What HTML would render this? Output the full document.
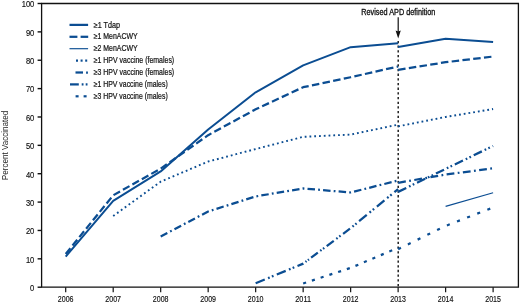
<!DOCTYPE html><html><head><meta charset="utf-8"><style>html,body{margin:0;padding:0;background:#fff}svg{display:block;will-change:transform;opacity:0.999}text{font-family:"Liberation Sans",sans-serif}</style></head><body>
<svg width="520" height="303" viewBox="0 0 520 303">
<rect width="520" height="303" fill="#fff"/>
<path d="M41.6 3.5H518.4V287.2H41.6Z" fill="none" stroke="#111" stroke-width="1.3"/>
<path d="M37.6 287.20H41.6" stroke="#111" stroke-width="1.4"/>
<text x="34.3" y="291.00" font-size="8.2" stroke="#111" stroke-width="0.15" text-anchor="end" fill="#111" textLength="4.20" lengthAdjust="spacingAndGlyphs">0</text>
<path d="M37.6 258.83H41.6" stroke="#111" stroke-width="1.4"/>
<text x="34.3" y="262.63" font-size="8.2" stroke="#111" stroke-width="0.15" text-anchor="end" fill="#111" textLength="8.40" lengthAdjust="spacingAndGlyphs">10</text>
<path d="M37.6 230.46H41.6" stroke="#111" stroke-width="1.4"/>
<text x="34.3" y="234.26" font-size="8.2" stroke="#111" stroke-width="0.15" text-anchor="end" fill="#111" textLength="8.40" lengthAdjust="spacingAndGlyphs">20</text>
<path d="M37.6 202.09H41.6" stroke="#111" stroke-width="1.4"/>
<text x="34.3" y="205.89" font-size="8.2" stroke="#111" stroke-width="0.15" text-anchor="end" fill="#111" textLength="8.40" lengthAdjust="spacingAndGlyphs">30</text>
<path d="M37.6 173.72H41.6" stroke="#111" stroke-width="1.4"/>
<text x="34.3" y="177.52" font-size="8.2" stroke="#111" stroke-width="0.15" text-anchor="end" fill="#111" textLength="8.40" lengthAdjust="spacingAndGlyphs">40</text>
<path d="M37.6 145.35H41.6" stroke="#111" stroke-width="1.4"/>
<text x="34.3" y="149.15" font-size="8.2" stroke="#111" stroke-width="0.15" text-anchor="end" fill="#111" textLength="8.40" lengthAdjust="spacingAndGlyphs">50</text>
<path d="M37.6 116.98H41.6" stroke="#111" stroke-width="1.4"/>
<text x="34.3" y="120.78" font-size="8.2" stroke="#111" stroke-width="0.15" text-anchor="end" fill="#111" textLength="8.40" lengthAdjust="spacingAndGlyphs">60</text>
<path d="M37.6 88.61H41.6" stroke="#111" stroke-width="1.4"/>
<text x="34.3" y="92.41" font-size="8.2" stroke="#111" stroke-width="0.15" text-anchor="end" fill="#111" textLength="8.40" lengthAdjust="spacingAndGlyphs">70</text>
<path d="M37.6 60.24H41.6" stroke="#111" stroke-width="1.4"/>
<text x="34.3" y="64.04" font-size="8.2" stroke="#111" stroke-width="0.15" text-anchor="end" fill="#111" textLength="8.40" lengthAdjust="spacingAndGlyphs">80</text>
<path d="M37.6 31.87H41.6" stroke="#111" stroke-width="1.4"/>
<text x="34.3" y="35.67" font-size="8.2" stroke="#111" stroke-width="0.15" text-anchor="end" fill="#111" textLength="8.40" lengthAdjust="spacingAndGlyphs">90</text>
<path d="M37.6 3.50H41.6" stroke="#111" stroke-width="1.4"/>
<text x="34.3" y="7.30" font-size="8.2" stroke="#111" stroke-width="0.15" text-anchor="end" fill="#111" textLength="12.60" lengthAdjust="spacingAndGlyphs">100</text>
<path d="M65.70 287.2V292.2" stroke="#111" stroke-width="1.2"/>
<text x="65.70" y="301.8" font-size="8.2" stroke="#111" stroke-width="0.15" text-anchor="middle" fill="#111" textLength="15.7" lengthAdjust="spacingAndGlyphs">2006</text>
<path d="M113.19 287.2V292.2" stroke="#111" stroke-width="1.2"/>
<text x="113.19" y="301.8" font-size="8.2" stroke="#111" stroke-width="0.15" text-anchor="middle" fill="#111" textLength="15.7" lengthAdjust="spacingAndGlyphs">2007</text>
<path d="M160.68 287.2V292.2" stroke="#111" stroke-width="1.2"/>
<text x="160.68" y="301.8" font-size="8.2" stroke="#111" stroke-width="0.15" text-anchor="middle" fill="#111" textLength="15.7" lengthAdjust="spacingAndGlyphs">2008</text>
<path d="M208.17 287.2V292.2" stroke="#111" stroke-width="1.2"/>
<text x="208.17" y="301.8" font-size="8.2" stroke="#111" stroke-width="0.15" text-anchor="middle" fill="#111" textLength="15.7" lengthAdjust="spacingAndGlyphs">2009</text>
<path d="M255.66 287.2V292.2" stroke="#111" stroke-width="1.2"/>
<text x="255.66" y="301.8" font-size="8.2" stroke="#111" stroke-width="0.15" text-anchor="middle" fill="#111" textLength="15.7" lengthAdjust="spacingAndGlyphs">2010</text>
<path d="M303.15 287.2V292.2" stroke="#111" stroke-width="1.2"/>
<text x="303.15" y="301.8" font-size="8.2" stroke="#111" stroke-width="0.15" text-anchor="middle" fill="#111" textLength="15.7" lengthAdjust="spacingAndGlyphs">2011</text>
<path d="M350.64 287.2V292.2" stroke="#111" stroke-width="1.2"/>
<text x="350.64" y="301.8" font-size="8.2" stroke="#111" stroke-width="0.15" text-anchor="middle" fill="#111" textLength="15.7" lengthAdjust="spacingAndGlyphs">2012</text>
<path d="M398.13 287.2V292.2" stroke="#111" stroke-width="1.2"/>
<text x="398.13" y="301.8" font-size="8.2" stroke="#111" stroke-width="0.15" text-anchor="middle" fill="#111" textLength="15.7" lengthAdjust="spacingAndGlyphs">2013</text>
<path d="M445.62 287.2V292.2" stroke="#111" stroke-width="1.2"/>
<text x="445.62" y="301.8" font-size="8.2" stroke="#111" stroke-width="0.15" text-anchor="middle" fill="#111" textLength="15.7" lengthAdjust="spacingAndGlyphs">2014</text>
<path d="M493.11 287.2V292.2" stroke="#111" stroke-width="1.2"/>
<text x="493.11" y="301.8" font-size="8.2" stroke="#111" stroke-width="0.15" text-anchor="middle" fill="#111" textLength="15.7" lengthAdjust="spacingAndGlyphs">2015</text>
<text transform="translate(7.5 145.4) rotate(-90)" font-size="8.4" text-anchor="middle" fill="#222" textLength="69.5" lengthAdjust="spacingAndGlyphs">Percent Vaccinated</text>
<text x="398.3" y="14.8" font-size="8.2" stroke="#111" stroke-width="0.3" text-anchor="middle" fill="#111" textLength="74" lengthAdjust="spacingAndGlyphs">Revised APD definition</text>
<path d="M398.2 17.3V32" stroke="#111" stroke-width="1.2"/>
<path d="M395.6 30.4L398.2 38.6L400.8 30.4L398.2 31.6Z" fill="#111"/>
<path d="M398.2 40.88V287.2" stroke="#111" stroke-width="1.4" stroke-dasharray="2.3 2.373" fill="none"/>
<polyline points="65.70,256.56 113.19,200.96 160.68,171.45 208.17,129.46 255.66,92.30 303.15,65.35 350.64,47.19 398.13,43.22" fill="none" stroke="#0b4d92" stroke-width="2.0" stroke-linejoin="round"/>
<polyline points="398.13,46.91 445.62,38.68 493.11,42.08" fill="none" stroke="#0b4d92" stroke-width="2.0" stroke-linejoin="round"/>
<polyline points="65.70,254.01 113.19,195.28 160.68,168.61 208.17,135.14 255.66,109.32 303.15,87.19 350.64,77.26 398.13,66.48" fill="none" stroke="#0b4d92" stroke-width="2.25" stroke-dasharray="7.5 3.34" stroke-linejoin="round"/>
<polyline points="398.13,69.89 445.62,62.23 493.11,56.55" fill="none" stroke="#0b4d92" stroke-width="2.25" stroke-dasharray="7.5 3.34" stroke-linejoin="round"/>
<polyline points="445.62,206.35 493.11,192.73" fill="none" stroke="#0b4d92" stroke-width="1.15" stroke-linejoin="round"/>
<polyline points="113.19,215.99 160.68,181.66 208.17,161.52 255.66,149.04 303.15,136.84 350.64,134.57 398.13,124.64" fill="none" stroke="#0b4d92" stroke-width="1.9" stroke-dasharray="1.8 2.97" stroke-linejoin="round"/>
<polyline points="398.13,126.34 445.62,116.98 493.11,109.04" fill="none" stroke="#0b4d92" stroke-width="1.9" stroke-dasharray="1.8 2.97" stroke-linejoin="round"/>
<polyline points="160.68,236.42 208.17,211.45 255.66,196.42 303.15,188.47 350.64,192.44 398.13,180.53" fill="none" stroke="#0b4d92" stroke-width="2.25" stroke-dasharray="7.5 3.15 1.8 3.15" stroke-linejoin="round"/>
<polyline points="398.13,182.80 445.62,174.57 493.11,168.33" fill="none" stroke="#0b4d92" stroke-width="2.25" stroke-dasharray="7.8 3.4 1.8 3.4" stroke-linejoin="round"/>
<polyline points="398.13,191.88 445.62,168.90 493.11,145.92" fill="none" stroke="#0b4d92" stroke-width="2.25" stroke-dasharray="9.0 3.1 1.7 2.4 1.7 3.1" stroke-linejoin="round"/>
<polyline points="303.15,283.51 350.64,267.91 398.13,247.77" fill="none" stroke="#0b4d92" stroke-width="2.25" stroke-dasharray="3.1 6.1" stroke-linejoin="round"/>
<polyline points="398.13,249.18 445.62,225.92 493.11,207.48" fill="none" stroke="#0b4d92" stroke-width="2.25" stroke-dasharray="3.1 7.75" stroke-linejoin="round"/>
<path d="M255.66 283.23 L264.75 279.48 M268.03 278.13 L269.72 277.43 M271.83 276.56 L273.52 275.86 M276.80 274.51 L285.70 270.85 M288.91 269.52 L290.57 268.84 M292.64 267.99 L294.29 267.30 M297.50 265.98 L303.15 263.65 L303.35 263.51 M305.46 261.93 L306.54 261.12 M307.90 260.10 L308.99 259.29 M311.10 257.72 L317.81 252.71 M320.23 250.90 L321.47 249.97 M323.03 248.80 L324.28 247.87 M326.70 246.07 L333.75 240.80 M336.29 238.90 L337.61 237.92 M339.25 236.70 L340.56 235.72 M343.10 233.82 L349.98 228.68 M352.46 226.69 L353.74 225.63 M355.34 224.32 L356.62 223.26 M359.10 221.22 L366.75 214.91 M369.51 212.63 L370.94 211.46 M372.72 209.99 L374.14 208.82 M376.90 206.54 L384.42 200.34 M387.14 198.10 L388.54 196.95 M390.29 195.51 L391.69 194.35 M394.40 192.11 L398.13 189.04" fill="none" stroke="#0b4d92" stroke-width="2.25"/>
<path d="M69.5 24.90H88.1" stroke="#0b4d92" stroke-width="2.25"/>
<path d="M69.5 36.80H77.4" stroke="#0b4d92" stroke-width="2.25"/>
<path d="M80.6 36.80H88.2" stroke="#0b4d92" stroke-width="2.25"/>
<path d="M69.5 48.70H88.1" stroke="#0b4d92" stroke-width="1.15"/>
<path d="M76.0 60.60H78.0" stroke="#0b4d92" stroke-width="2.2"/>
<path d="M80.6 60.60H82.6" stroke="#0b4d92" stroke-width="2.2"/>
<path d="M85.2 60.60H87.2" stroke="#0b4d92" stroke-width="2.2"/>
<path d="M75.5 72.50H83" stroke="#0b4d92" stroke-width="2.25"/>
<path d="M86.1 72.50H87.9" stroke="#0b4d92" stroke-width="2.25"/>
<path d="M70 84.40H78.8" stroke="#0b4d92" stroke-width="2.25"/>
<path d="M81.7 84.40H83.5" stroke="#0b4d92" stroke-width="2.25"/>
<path d="M85.7 84.40H87.5" stroke="#0b4d92" stroke-width="2.25"/>
<path d="M75.6 96.30H78.6" stroke="#0b4d92" stroke-width="2.2"/>
<path d="M83.6 96.30H86.6" stroke="#0b4d92" stroke-width="2.2"/>
<text x="93.7" y="27.50" font-size="8.2" stroke="#111" stroke-width="0.2" fill="#111" textLength="26.3" lengthAdjust="spacingAndGlyphs">≥1 Tdap</text>
<text x="93.7" y="39.40" font-size="8.2" stroke="#111" stroke-width="0.2" fill="#111" textLength="43.9" lengthAdjust="spacingAndGlyphs">≥1 MenACWY</text>
<text x="93.7" y="51.30" font-size="8.2" stroke="#111" stroke-width="0.2" fill="#111" textLength="43.9" lengthAdjust="spacingAndGlyphs">≥2 MenACWY</text>
<text x="93.7" y="63.20" font-size="8.2" stroke="#111" stroke-width="0.2" fill="#111" textLength="80.5" lengthAdjust="spacingAndGlyphs">≥1 HPV vaccine (females)</text>
<text x="93.7" y="75.10" font-size="8.2" stroke="#111" stroke-width="0.2" fill="#111" textLength="80.5" lengthAdjust="spacingAndGlyphs">≥3 HPV vaccine (females)</text>
<text x="93.7" y="87.00" font-size="8.2" stroke="#111" stroke-width="0.2" fill="#111" textLength="74" lengthAdjust="spacingAndGlyphs">≥1 HPV vaccine (males)</text>
<text x="93.7" y="98.90" font-size="8.2" stroke="#111" stroke-width="0.2" fill="#111" textLength="74" lengthAdjust="spacingAndGlyphs">≥3 HPV vaccine (males)</text>
</svg></body></html>
